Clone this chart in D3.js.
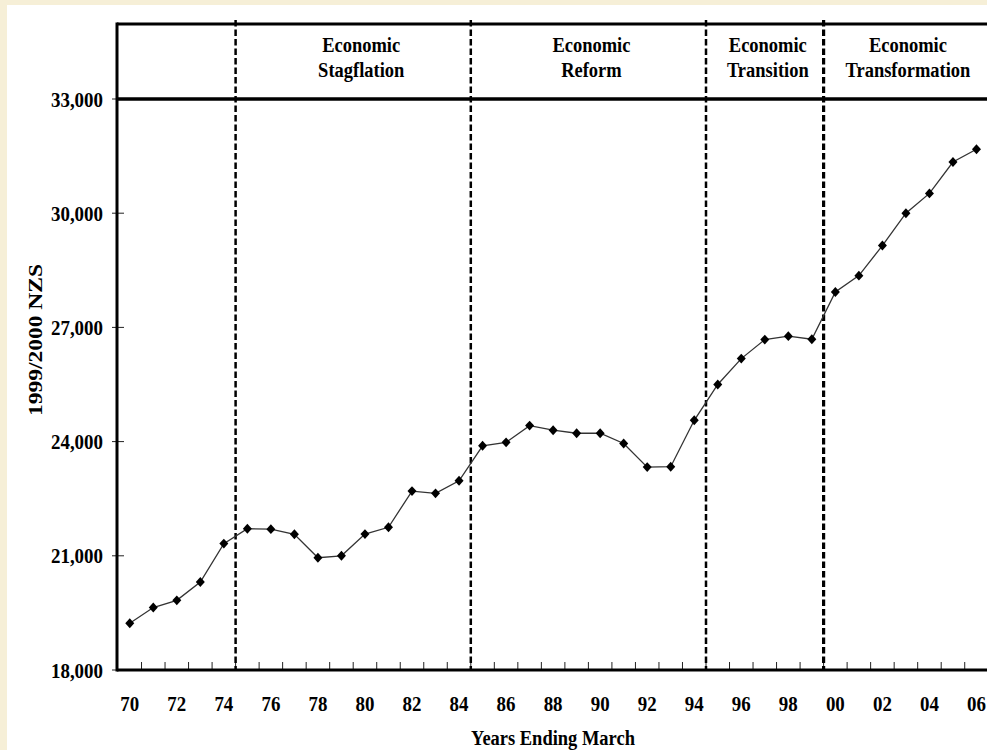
<!DOCTYPE html>
<html>
<head>
<meta charset="utf-8">
<script src="https://cdn.jsdelivr.net/npm/d3@7"></script>
<style>
  html, body { margin: 0; padding: 0; background: #f6efd7; }
  svg { display: block; }
  text { font-family: "Liberation Serif", "Times New Roman", serif; font-weight: bold; fill: #000; }
</style>
</head>
<body>
<svg id="chart" width="987" height="750"></svg>
<script>
var years = ["70","71","72","73","74","75","76","77","78","79",
             "80","81","82","83","84","85","86","87","88","89",
             "90","91","92","93","94","95","96","97","98","99",
             "00","01","02","03","04","05","06"];
var gdp = [19230, 19640, 19830, 20310, 21320, 21710, 21700, 21565, 20950, 21000,
           21570, 21750, 22700, 22640, 22970, 23890, 23980, 24420, 24300, 24220,
           24220, 23950, 23330, 23340, 24560, 25500, 26180, 26680, 26770, 26690,
           27930, 28360, 29150, 30000, 30520, 31345, 31680];
var yTicks = [18000, 21000, 24000, 27000, 30000, 33000];
var xTickLabels = years.filter(function(d, i) { return i % 2 == 0; });
var periodStarts = ["75", "85", "95", "00"];
var periodNames = [
    { start: "75", end: "84", lines: ["Economic", "Stagflation"], shift: 8 },
    { start: "85", end: "94", lines: ["Economic", "Reform"], shift: 3 },
    { start: "95", end: "99", lines: ["Economic", "Transition"], shift: 3 },
    { start: "00", end: "06", lines: ["Economic", "Transformation"], shift: 2 }
];

var svg = d3.select("#chart");
var plotLeft = 118, plotRight = 118 + 37 * 23.52, plotTop = 24, plotBottom = 670;
var squish = 0.88;

svg.append("rect")
    .attr("x", 7).attr("y", 5)
    .attr("width", 987).attr("height", 750)
    .attr("fill", "#fff");

var x = d3.scaleBand().domain(years).range([plotLeft, plotRight]);
var y = d3.scaleLinear().domain([18000, 33000]).range([plotBottom, 99]);

function squishedText(sel, tx, ty) {
    return sel.attr("transform", "translate(" + tx + "," + ty + ") scale(" + squish + ",1)");
}

// y ticks + labels
var yt = svg.append("g").attr("class", "axis axis--y");
yt.selectAll("line")
    .data(yTicks)
    .enter().append("line")
    .attr("x1", plotLeft - 6).attr("x2", plotLeft + 6)
    .attr("y1", function(d) { return y(d); })
    .attr("y2", function(d) { return y(d); })
    .attr("stroke", "#222").attr("stroke-width", 1);
yt.selectAll("text")
    .data(yTicks)
    .enter().append("text")
    .attr("text-anchor", "end")
    .attr("dy", "0.35em")
    .style("font-size", "21.5px")
    .each(function(d) { squishedText(d3.select(this), 103, y(d)); })
    .text(d3.format(","));

// x ticks at category boundaries
var xt = svg.append("g").attr("class", "axis axis--x");
xt.selectAll("line")
    .data(years.slice(1))
    .enter().append("line")
    .attr("x1", function(d) { return x(d); })
    .attr("x2", function(d) { return x(d); })
    .attr("y1", plotBottom - 8).attr("y2", plotBottom)
    .attr("stroke", "#222").attr("stroke-width", 1);
xt.selectAll("text")
    .data(xTickLabels)
    .enter().append("text")
    .attr("text-anchor", "middle")
    .style("font-size", "21.5px")
    .each(function(d) { squishedText(d3.select(this), x(d) + x.bandwidth() / 2, 711); })
    .text(function(d) { return d; });

// frame lines
svg.append("line")
    .attr("x1", plotLeft - 1).attr("x2", plotRight).attr("y1", plotTop).attr("y2", plotTop)
    .attr("stroke", "#000").attr("stroke-width", 3);
svg.append("line")
    .attr("x1", plotLeft - 1).attr("x2", plotRight).attr("y1", y(33000)).attr("y2", y(33000))
    .attr("stroke", "#000").attr("stroke-width", 3.5);
svg.append("line")
    .attr("x1", plotLeft - 1).attr("x2", plotLeft - 1).attr("y1", plotTop - 1.5).attr("y2", plotBottom + 1.5)
    .attr("stroke", "#000").attr("stroke-width", 3);
svg.append("line")
    .attr("x1", plotLeft - 1).attr("x2", plotRight).attr("y1", plotBottom).attr("y2", plotBottom)
    .attr("stroke", "#000").attr("stroke-width", 3);

// period dividers
svg.selectAll(".divider")
    .data(periodStarts)
    .enter().append("line")
    .attr("class", "divider")
    .attr("x1", function(d) { return x(d); })
    .attr("x2", function(d) { return x(d); })
    .attr("y1", plotTop - 4).attr("y2", plotBottom)
    .attr("stroke", "#000")
    .attr("stroke-width", function(d, i) { return i == 3 ? 3.2 : 2.5; })
    .attr("stroke-dasharray", "6.5,3");

// period names
var pn = svg.selectAll(".period")
    .data(periodNames)
    .enter().append("g")
    .attr("class", "period");
pn.each(function(p) {
    var cx = (x(p.start) + x(p.end) + x.bandwidth()) / 2 + p.shift;
    var g = d3.select(this);
    p.lines.forEach(function(t, i) {
        g.append("text")
            .attr("text-anchor", "middle")
            .style("font-size", "21px")
            .call(squishedText, cx, 52 + i * 25)
            .text(t);
    });
});

// series
var line = d3.line()
    .x(function(d, i) { return x(years[i]) + x.bandwidth() / 2; })
    .y(function(d) { return y(d); });

svg.append("path")
    .datum(gdp)
    .attr("d", line)
    .attr("fill", "none")
    .attr("stroke", "#333")
    .attr("stroke-width", 1.3);

var diamond = {
    draw: function(ctx, size) {
        var r = Math.sqrt(size) / 2;
        ctx.moveTo(0, -r * 1.1);
        ctx.lineTo(r, 0);
        ctx.lineTo(0, r * 1.1);
        ctx.lineTo(-r, 0);
        ctx.closePath();
    }
};
svg.selectAll(".dot")
    .data(gdp)
    .enter().append("path")
    .attr("class", "dot")
    .attr("d", d3.symbol().type(diamond).size(81))
    .attr("transform", function(d, i) {
        return "translate(" + (x(years[i]) + x.bandwidth() / 2) + "," + y(d) + ")"; })
    .attr("fill", "#000");

// axis titles
svg.append("text")
    .attr("text-anchor", "middle")
    .style("font-size", "21px")
    .call(squishedText, 553, 745)
    .text("Years Ending March");

svg.append("text")
    .attr("text-anchor", "middle")
    .attr("transform", "translate(42,340) rotate(-90) scale(1,0.82)")
    .style("font-size", "23.5px")
    .text("1999/2000 NZS");
</script>
</body>
</html>
